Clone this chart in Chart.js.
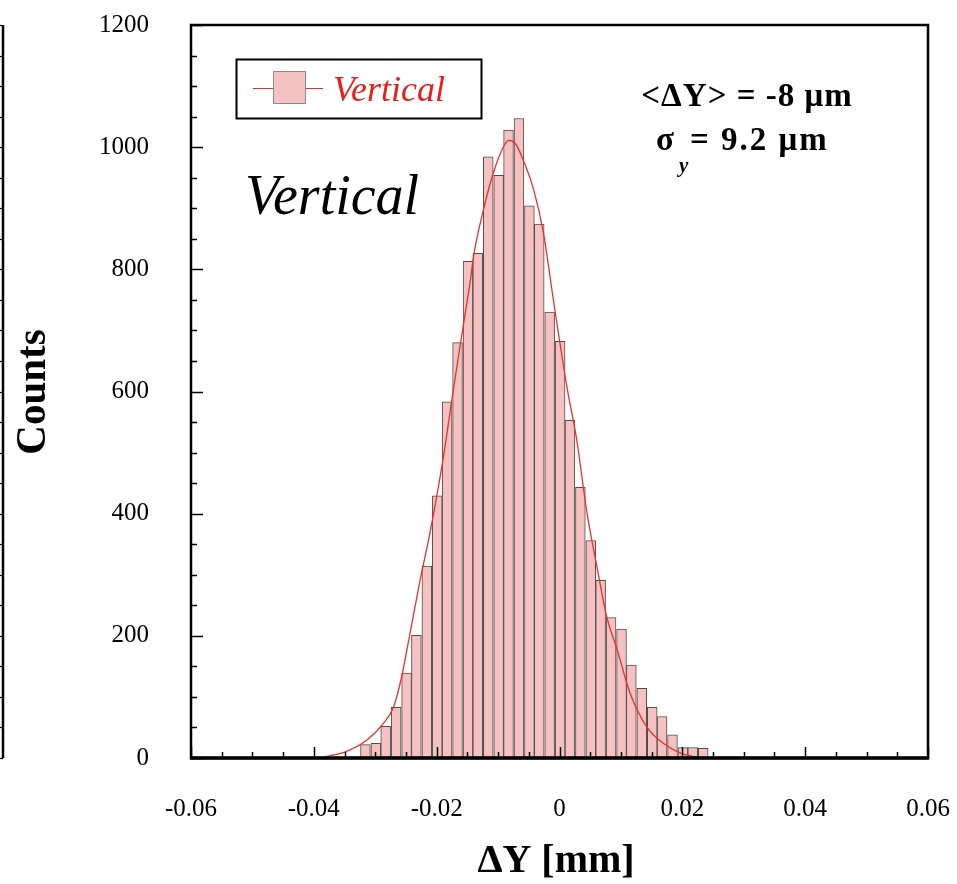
<!DOCTYPE html>
<html>
<head>
<meta charset="utf-8">
<script src="https://cdn.jsdelivr.net/npm/chart.js@4.4.1/dist/chart.umd.min.js"></script>
<style>
  html, body { margin: 0; padding: 0; background: #fff; }
  #wrap { width: 957px; height: 884px; }
</style>
</head>
<body>
<div id="wrap"><canvas id="histChart" width="957" height="884"></canvas></div>
<script>
// histogram bins (bin centre in mm) and counts
const binCenters = [-0.0333, -0.0316, -0.0299, -0.0283, -0.0266, -0.0249, -0.0233, -0.0216,
  -0.0199, -0.0183, -0.0166, -0.0149, -0.0133, -0.0116, -0.0099, -0.0083, -0.0066, -0.0049,
  -0.0033, -0.0016, 0.0001, 0.0017, 0.0034, 0.0051, 0.0067, 0.0084, 0.0101, 0.0117, 0.0134,
  0.0151, 0.0167, 0.0184, 0.0201, 0.0217, 0.0234, 0.0251, 0.0267, 0.0284];
const counts = [2, 22, 24, 52, 83, 139, 201, 314, 429, 583, 680, 813, 826, 984, 954, 1028,
  1047, 904, 874, 730, 682, 553, 443, 356, 291, 230, 211, 152, 114, 83, 68, 38, 17, 17, 16,
  0, 2, 2];

// gaussian fit curve
const fitX = [-0.0393, -0.0349, -0.0314, -0.0288, -0.0270, -0.0257, -0.0246, -0.0227, -0.0211,
  -0.0189, -0.0173, -0.0156, -0.0145, -0.0140, -0.0124, -0.0108, -0.0091, -0.0083, -0.0072,
  -0.0059, -0.0042, -0.0026, -0.0010, 0.0012, 0.0028, 0.0045, 0.0061, 0.0077, 0.0094, 0.0115,
  0.0142, 0.0169, 0.0197, 0.0224];
const fitY = [0, 10, 29, 55, 84, 133, 190, 291, 368, 493, 602, 712, 783, 821, 897, 957, 1001,
  1011, 1006, 979, 930, 859, 750, 608, 521, 400, 313, 231, 177, 106, 51, 24, 8, 1];

const seriesName = 'Vertical';
const meanText = '<ΔY> = -8 μm';
const sigmaText = '= 9.2 μm';

const serif = '"Liberation Serif", "Times New Roman", serif';

// inward ticks, frame, labels and legend
const decor = {
  id: 'decor',
  afterDatasetsDraw(chart) {
    const { ctx, chartArea: a, scales: { x, y } } = chart;
    ctx.save();
    ctx.strokeStyle = '#000';

    // ticks
    ctx.lineWidth = 1.5;
    for (let i = 0; i <= 24; i++) {
      const v = -0.06 + i * 0.005;
      const px = Math.round(x.getPixelForValue(v)) + 0.5;
      const len = i % 4 === 0 ? 11 : 6;
      ctx.beginPath(); ctx.moveTo(px, a.bottom); ctx.lineTo(px, a.bottom - len); ctx.stroke();
    }
    for (let i = 0; i <= 24; i++) {
      const py = Math.round(y.getPixelForValue(i * 50)) + 0.5;
      const len = i % 4 === 0 ? 12 : 6;
      ctx.beginPath(); ctx.moveTo(a.left, py); ctx.lineTo(a.left + len, py); ctx.stroke();
    }

    // frame
    ctx.lineWidth = 2.5;
    ctx.strokeRect(a.left, a.top, a.right - a.left, a.bottom - a.top);
    ctx.lineWidth = 3.5;
    ctx.beginPath(); ctx.moveTo(a.left - 1, a.bottom); ctx.lineTo(a.right + 1, a.bottom); ctx.stroke();

    // cut-off axis of the neighbouring panel
    ctx.lineWidth = 2.5;
    ctx.beginPath(); ctx.moveTo(3, a.top); ctx.lineTo(3, a.bottom); ctx.stroke();
    ctx.lineWidth = 1.2;
    for (let i = 0; i <= 24; i++) {
      const py = Math.round(y.getPixelForValue(i * 50)) + 0.5;
      ctx.beginPath(); ctx.moveTo(0, py); ctx.lineTo(3, py); ctx.stroke();
    }

    // axis titles
    ctx.fillStyle = '#000';
    ctx.textAlign = 'center';
    ctx.textBaseline = 'middle';
    ctx.font = 'bold 40px ' + serif;
    ctx.fillText('ΔY [mm]', 556, 862);
    ctx.save();
    ctx.translate(34, 392);
    ctx.rotate(-Math.PI / 2);
    ctx.scale(1, 1.05);
    ctx.font = 'bold 41px ' + serif;
    ctx.fillText('Counts', 0, 0);
    ctx.restore();

    // big label
    ctx.textAlign = 'left';
    ctx.textBaseline = 'alphabetic';
    ctx.font = 'italic 56px ' + serif;
    ctx.fillText(seriesName, 245, 214);

    // stats
    ctx.font = 'bold 33px ' + serif;
    ctx.textAlign = 'center';
    ctx.letterSpacing = '1px';
    ctx.fillText(meanText, 747, 106);
    ctx.textAlign = 'left';
    ctx.letterSpacing = '0px';
    ctx.fillText('σ', 656, 150);
    ctx.letterSpacing = '2px';
    ctx.fillText(sigmaText, 690, 150);
    ctx.letterSpacing = '0px';
    ctx.font = 'bold italic 21px ' + serif;
    ctx.fillText('y', 679, 172);

    // legend
    ctx.lineWidth = 2;
    ctx.strokeRect(236.5, 59.5, 245, 59);
    ctx.strokeStyle = '#e8302a';
    ctx.lineWidth = 1.2;
    ctx.beginPath(); ctx.moveTo(253, 88.5); ctx.lineTo(323, 88.5); ctx.stroke();
    ctx.fillStyle = '#f5c1c1';
    ctx.fillRect(273, 71, 33, 33);
    ctx.strokeStyle = '#8a8a8a';
    ctx.lineWidth = 1;
    ctx.strokeRect(273.5, 71.5, 32, 32);
    ctx.fillStyle = '#e8201a';
    ctx.font = 'italic 36px ' + serif;
    ctx.fillText(seriesName, 333, 101);

    ctx.restore();
  }
};

const ctx = document.getElementById('histChart').getContext('2d');
new Chart(ctx, {
  data: {
    datasets: [{
      type: 'bar',
      label: seriesName,
      data: binCenters.map((c, i) => ({ x: c, y: counts[i] })),
      backgroundColor: '#f5c1c1',
      borderColor: '#4d4d4d',
      borderWidth: 1,
      borderSkipped: false,
      barPercentage: 1,
      categoryPercentage: 1,
      order: 2
    }, {
      type: 'line',
      label: 'fit',
      data: fitX.map((v, i) => ({ x: v, y: fitY[i] })),
      borderColor: '#e8302a',
      borderWidth: 1.3,
      pointRadius: 0,
      fill: false,
      cubicInterpolationMode: 'monotone',
      order: 1
    }]
  },
  options: {
    responsive: false,
    animation: false,
    events: [],
    layout: { padding: { top: 25, right: 29, left: 0, bottom: 0 } },
    plugins: { legend: { display: false }, tooltip: { enabled: false } },
    scales: {
      x: {
        type: 'linear',
        offset: false,
        min: -0.06,
        max: 0.06,
        afterFit: s => { s.height = 126; s.paddingLeft = 0; s.paddingRight = 0; },
        grid: { display: false, drawTicks: false, offset: false },
        border: { display: false },
        ticks: {
          stepSize: 0.02,
          padding: 36,
          maxRotation: 0,
          color: '#000',
          font: { family: serif, size: 25 },
          callback: v => String(Number(v.toFixed(2)))
        }
      },
      y: {
        min: 0,
        max: 1200,
        afterFit: s => { s.width = 191; s.paddingTop = 0; s.paddingBottom = 0; },
        grid: { display: false, drawTicks: false },
        border: { display: false },
        ticks: {
          stepSize: 200,
          padding: 42,
          color: '#000',
          font: { family: serif, size: 25 },
          callback: v => String(v)
        }
      }
    }
  },
  plugins: [decor]
});
</script>
</body>
</html>
